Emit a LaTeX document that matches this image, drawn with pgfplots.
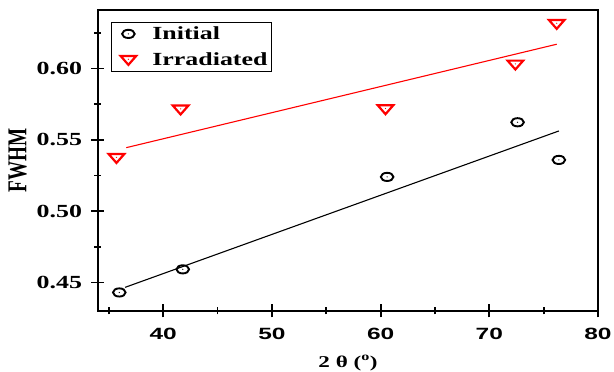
\documentclass[border=0pt]{standalone}
\usepackage{pgfplots}
\pgfplotsset{compat=1.18}
\usepackage{fontspec}
\setmainfont{Liberation Serif}[FakeStretch=1.4]
\newfontfamily\plainserif{Liberation Serif}
\newfontfamily\arialfont{Liberation Sans}[FakeStretch=1.5]
\pgfdeclareplotmark{ecirc}{%
  \pgfpathellipse{\pgfpointorigin}{\pgfpoint{6.3pt}{0pt}}{\pgfpoint{0pt}{4.1pt}}%
  \pgfusepathqstroke
  \pgfpathellipse{\pgfpointorigin}{\pgfpoint{0.7pt}{0pt}}{\pgfpoint{0pt}{0.6pt}}%
  \pgfusepathqfill}
\pgfdeclareplotmark{dtri}{%
  \pgfpathmoveto{\pgfpoint{-7.8pt}{4.3pt}}%
  \pgfpathlineto{\pgfpoint{7.8pt}{4.3pt}}%
  \pgfpathlineto{\pgfpoint{0pt}{-4.6pt}}%
  \pgfpathclose
  \pgfusepathqstroke
  \pgfpathellipse{\pgfpoint{0pt}{1pt}}{\pgfpoint{0.7pt}{0pt}}{\pgfpoint{0pt}{0.6pt}}%
  \pgfusepathqfill}
\begin{document}
\begin{tikzpicture}
\begin{axis}[
  scale only axis,
  width=500pt, height=301pt,
  xmin=34, xmax=80, ymin=0.43, ymax=0.641,
  xtick={40,50,60,70,80},
  minor xtick={35,45,55,65,75},
  ytick={0.45,0.50,0.55,0.60},
  minor ytick={0.475,0.525,0.575,0.625},
  yticklabel style={/pgf/number format/fixed,/pgf/number format/fixed zerofill,/pgf/number format/precision=2},
  /pgf/number format/assume math mode=true,
  tick align=center,
  major tick length=13pt,
  minor tick length=7pt,
  every tick/.style={black, line width=1.8pt},
  xtick pos=bottom, ytick pos=left,
  axis line style={line width=2pt},
  x tick label style={font=\arialfont\bfseries\fontsize{16.3}{17}\selectfont, yshift=-7pt},
  y tick label style={font=\bfseries\fontsize{18.5}{19}\selectfont, xshift=-6pt},
  xlabel={2 θ (\textsuperscript{o})},
  xlabel style={font=\bfseries\fontsize{16.5}{17}\selectfont, yshift=-9pt},
  ylabel={\scalebox{1}[1.42]{\plainserif\bfseries FWHM}},
  ylabel style={font=\fontsize{19.2}{19.2}\selectfont, yshift=3pt},
  legend style={at={(0.026,0.959)}, anchor=north west, draw=black, line width=0.8pt,
    font=\bfseries\fontsize{18.5}{19}\selectfont, inner sep=2pt, row sep=8pt},
  legend image code/.code={%
    \path[draw=none, fill=none] (0pt,-3pt) (37pt,3pt);
    \draw[mark repeat=2, mark phase=2] plot coordinates {(0pt,0pt) (15pt,0pt) (37pt,0pt)};},
  legend cell align=left,
]
\addplot[only marks, black, mark=ecirc, mark options={line width=1.9pt, fill=black}] coordinates {
  (35.96,0.443) (41.8,0.4592) (60.6,0.524) (72.6,0.5623) (76.4,0.5359)};
\addlegendentry{Initial}
\addplot[only marks, red, mark=dtri, mark options={line width=2.2pt, fill=red}] coordinates {
  (35.7,0.537) (41.6,0.571) (60.45,0.5712) (72.4,0.6025) (76.2,0.631)};
\addlegendentry{Irradiated}
\addplot[black, line width=1.1pt, forget plot] coordinates {(36.5,0.4466) (76.4,0.5562)};
\addplot[red, line width=1.1pt, forget plot] coordinates {(36.6,0.5445) (76.2,0.617)};
\end{axis}
\pgfresetboundingbox
\path[use as bounding box] (-98pt,-61pt) rectangle (516pt,311pt);
\end{tikzpicture}
\end{document}
